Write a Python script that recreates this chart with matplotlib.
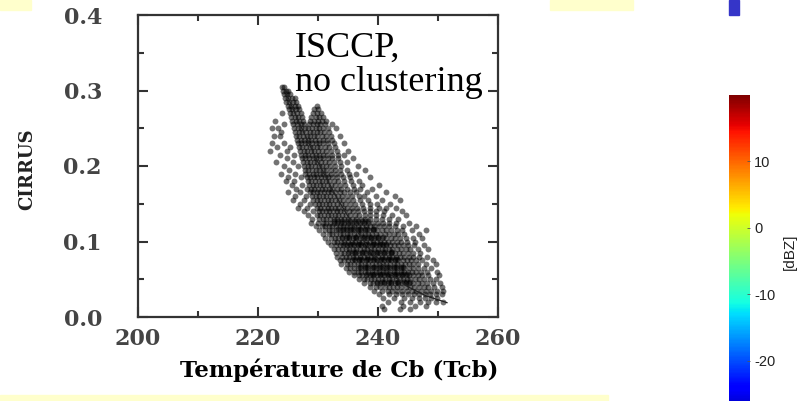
import matplotlib
matplotlib.use('Agg')
import matplotlib.pyplot as plt
import matplotlib.patches as mpatches
from matplotlib.cm import ScalarMappable
from matplotlib.colors import Normalize

# cirrus level -> temperatures (K) of the points
cirrus_levels = [0.305, 0.300, 0.295, 0.290, 0.285, 0.280, 0.275, 0.270, 0.265, 0.260,
                 0.255, 0.250, 0.245, 0.240, 0.235, 0.230, 0.225, 0.220, 0.215, 0.210,
                 0.205, 0.200, 0.195, 0.190, 0.185, 0.180, 0.175, 0.170, 0.165, 0.160,
                 0.155, 0.150, 0.145, 0.140, 0.135, 0.130, 0.125, 0.120, 0.115, 0.110,
                 0.105, 0.100, 0.095, 0.090, 0.085, 0.080, 0.075, 0.070, 0.065, 0.060,
                 0.055, 0.050, 0.045, 0.040, 0.035, 0.030, 0.025, 0.020, 0.015, 0.010]
tcb_by_level = [
    [224.0, 224.4],
    [224.1, 224.6, 225.0],
    [224.3, 224.8, 225.3],
    [224.5, 225.0, 225.6, 226.2],
    [224.6, 225.2, 225.8, 226.4],
    [225.0, 225.5, 226.1, 226.7, 229.9],
    [225.2, 225.7, 226.3, 226.9, 229.4, 230.0],
    [224.0, 225.4, 225.9, 226.5, 227.1, 229.2, 229.8, 230.5],
    [225.5, 226.1, 226.7, 227.3, 228.9, 229.6, 230.2, 230.9],
    [222.8, 225.7, 226.3, 226.9, 227.5, 228.7, 229.4, 230.0, 230.7, 231.4],
    [224.3, 225.9, 226.5, 227.1, 227.7, 228.5, 229.1, 229.8, 230.4, 231.1, 232.4],
    [222.4, 223.4, 226.0, 226.6, 227.2, 227.9, 228.4, 229.0, 229.6, 230.2, 230.9, 231.6, 233.0],
    [223.9, 226.2, 226.8, 227.4, 228.0, 228.6, 229.2, 229.8, 230.4, 231.0, 231.8],
    [222.7, 223.6, 226.3, 226.9, 227.5, 228.1, 228.7, 229.3, 229.9, 230.6, 231.3, 232.2, 233.6],
    [226.5, 227.1, 227.7, 228.3, 228.9, 229.5, 230.1, 230.8, 231.5, 232.4],
    [222.4, 224.4, 226.6, 227.2, 227.8, 228.4, 229.0, 229.6, 230.2, 230.9, 231.7, 232.6, 234.4],
    [223.2, 225.4, 226.8, 227.4, 228.0, 228.6, 229.2, 229.8, 230.4, 231.1, 231.9, 232.9],
    [222.0, 224.8, 227.0, 227.6, 228.2, 228.8, 229.4, 230.0, 230.6, 231.3, 232.1, 233.2, 235.0],
    [223.6, 226.0, 227.2, 227.8, 228.4, 229.0, 229.6, 230.2, 230.8, 231.5, 232.3, 233.4, 234.4],
    [224.9, 227.3, 227.9, 228.5, 229.1, 229.7, 230.3, 230.9, 231.6, 232.4, 233.3, 235.8],
    [223.0, 225.8, 227.5, 228.1, 228.7, 229.3, 229.9, 230.5, 231.1, 231.8, 232.6, 233.6, 234.8],
    [224.4, 226.6, 227.7, 228.3, 228.9, 229.5, 230.1, 230.7, 231.3, 232.0, 232.8, 233.8, 236.6],
    [225.2, 227.8, 228.4, 229.0, 229.6, 230.2, 230.8, 231.4, 232.1, 232.9, 233.7, 234.8, 237.8],
    [223.8, 226.2, 227.9, 228.5, 229.1, 229.7, 230.3, 230.9, 231.5, 232.2, 233.0, 233.9, 235.2, 236.4],
    [225.0, 227.2, 228.1, 228.7, 229.3, 229.9, 230.5, 231.1, 231.7, 232.4, 233.2, 234.1, 235.4, 238.6],
    [224.6, 226.0, 228.3, 228.9, 229.5, 230.1, 230.7, 231.3, 231.9, 232.6, 233.4, 234.3, 235.5, 236.8],
    [225.6, 227.4, 228.5, 229.1, 229.7, 230.3, 230.9, 231.5, 232.1, 232.8, 233.6, 234.5, 235.8, 237.4, 240.2],
    [226.4, 228.2, 228.8, 229.4, 230.0, 230.6, 231.2, 231.8, 232.4, 233.1, 233.9, 234.8, 236.0, 237.0, 239.0],
    [225.0, 227.0, 228.6, 229.2, 229.8, 230.4, 231.0, 231.6, 232.2, 232.9, 233.6, 234.4, 235.3, 236.4, 238.2, 241.4],
    [226.2, 228.0, 229.0, 229.6, 230.2, 230.8, 231.4, 232.0, 232.6, 233.3, 234.0, 234.8, 235.7, 236.8, 237.6, 239.6, 242.8],
    [225.8, 227.6, 229.2, 229.8, 230.4, 231.0, 231.6, 232.2, 232.8, 233.5, 234.2, 235.0, 235.9, 237.0, 238.4, 240.6, 243.6],
    [227.0, 228.6, 229.5, 230.1, 230.7, 231.3, 231.9, 232.5, 233.1, 233.8, 234.5, 235.3, 236.2, 237.3, 238.6, 239.8, 242.0],
    [226.6, 228.2, 229.8, 230.4, 231.0, 231.6, 232.2, 232.8, 233.4, 234.1, 234.8, 235.6, 236.5, 237.5, 238.6, 240.2, 241.4, 243.0],
    [227.6, 229.2, 230.1, 230.7, 231.3, 231.9, 232.5, 233.1, 233.7, 234.4, 235.1, 235.9, 236.7, 237.6, 238.6, 239.7, 241.0, 244.0],
    [228.4, 229.8, 230.4, 231.0, 231.6, 232.2, 232.8, 233.4, 234.0, 234.7, 235.4, 236.1, 236.9, 237.8, 238.7, 239.7, 240.8, 242.4, 244.6],
    [229.0, 230.2, 230.8, 231.4, 232.0, 232.6, 233.2, 233.8, 234.4, 235.0, 235.7, 236.4, 237.1, 237.9, 238.7, 239.6, 240.6, 241.8, 243.4],
    [228.8, 230.0, 230.8, 231.4, 232.0, 232.6, 233.2, 233.8, 234.4, 235.0, 235.6, 236.3, 237.0, 237.7, 238.4, 239.2, 240.0, 240.9, 241.9, 243.0, 245.2],
    [229.6, 230.6, 231.2, 231.8, 232.4, 233.0, 233.6, 234.2, 234.8, 235.4, 236.0, 236.6, 237.3, 238.0, 238.7, 239.4, 240.2, 241.0, 241.9, 242.8, 244.2, 246.4],
    [230.2, 231.2, 231.8, 232.4, 233.0, 233.6, 234.2, 234.8, 235.4, 236.0, 236.6, 237.2, 237.8, 238.5, 239.2, 239.9, 240.6, 241.4, 242.2, 243.1, 244.0, 245.6, 248.0],
    [230.8, 231.8, 232.4, 233.0, 233.6, 234.2, 234.8, 235.4, 236.0, 236.6, 237.2, 237.8, 238.4, 239.0, 239.7, 240.4, 241.1, 241.8, 242.6, 243.4, 244.4, 246.8],
    [231.2, 232.2, 232.8, 233.4, 234.0, 234.6, 235.2, 235.8, 236.4, 237.0, 237.6, 238.2, 238.8, 239.4, 240.0, 240.7, 241.4, 242.1, 242.9, 243.7, 244.6, 245.8, 247.4],
    [231.6, 232.6, 233.2, 233.8, 234.4, 235.0, 235.6, 236.2, 236.8, 237.4, 238.0, 238.6, 239.2, 239.8, 240.4, 241.0, 241.7, 242.4, 243.1, 243.9, 244.8, 246.2],
    [232.2, 233.0, 233.6, 234.2, 234.8, 235.4, 236.0, 236.6, 237.2, 237.8, 238.4, 239.0, 239.6, 240.2, 240.8, 241.4, 242.0, 242.7, 243.4, 244.2, 245.0, 246.0, 247.6],
    [232.6, 233.4, 234.0, 234.6, 235.2, 235.8, 236.4, 237.0, 237.6, 238.2, 238.8, 239.4, 240.0, 240.6, 241.2, 241.8, 242.4, 243.1, 243.8, 244.6, 245.4, 246.6, 248.4],
    [233.0, 233.8, 234.4, 235.0, 235.6, 236.2, 236.8, 237.4, 238.0, 238.6, 239.2, 239.8, 240.4, 241.0, 241.6, 242.2, 242.8, 243.5, 244.2, 245.0, 245.8, 247.0],
    [233.2, 234.0, 234.6, 235.2, 235.8, 236.4, 237.0, 237.6, 238.2, 238.8, 239.4, 240.0, 240.6, 241.2, 241.8, 242.4, 243.0, 243.7, 244.4, 245.1, 245.9, 246.8, 248.2],
    [233.6, 234.4, 235.0, 235.6, 236.2, 236.8, 237.4, 238.0, 238.6, 239.2, 239.8, 240.4, 241.0, 241.6, 242.2, 242.8, 243.4, 244.1, 244.8, 245.5, 246.3, 247.4, 249.2],
    [233.8, 234.8, 235.4, 236.0, 236.6, 237.2, 237.8, 238.4, 239.0, 239.6, 240.2, 240.8, 241.4, 242.0, 242.6, 243.2, 243.8, 244.5, 245.2, 245.9, 246.7, 248.0, 249.6],
    [234.6, 235.4, 236.0, 236.6, 237.2, 237.8, 238.4, 239.0, 239.6, 240.2, 240.8, 241.4, 242.0, 242.6, 243.2, 243.8, 244.4, 245.1, 245.8, 246.6, 247.6, 248.8],
    [235.2, 236.0, 236.6, 237.2, 237.8, 238.4, 239.0, 239.6, 240.2, 240.8, 241.4, 242.0, 242.6, 243.2, 243.8, 244.4, 245.0, 245.7, 246.4, 247.2, 248.2, 249.8],
    [236.0, 236.8, 237.4, 238.0, 238.6, 239.2, 239.8, 240.4, 241.0, 241.6, 242.2, 242.8, 243.4, 244.0, 244.6, 245.2, 245.9, 246.6, 247.4, 248.4, 250.2],
    [236.8, 237.6, 238.2, 238.8, 239.4, 240.0, 240.6, 241.2, 241.8, 242.4, 243.0, 243.6, 244.2, 244.8, 245.4, 246.1, 246.8, 247.6, 248.6, 249.6],
    [237.6, 238.6, 239.2, 239.8, 240.4, 241.0, 241.6, 242.2, 242.8, 243.4, 244.0, 244.6, 245.2, 245.9, 246.6, 247.4, 248.2, 249.2, 250.4],
    [238.6, 239.6, 240.4, 241.1, 241.8, 242.5, 243.2, 243.9, 244.6, 245.3, 246.0, 246.8, 247.6, 248.4, 249.4, 250.6],
    [239.4, 240.6, 241.6, 242.4, 243.2, 244.0, 244.8, 245.6, 246.4, 247.2, 248.0, 248.9, 249.8, 250.8],
    [240.2, 241.8, 243.0, 244.0, 245.0, 246.0, 246.9, 247.8, 248.7, 249.6, 250.6],
    [240.8, 242.6, 244.4, 245.6, 246.8, 247.8, 248.8, 249.8],
    [241.6, 243.8, 245.4, 247.0, 248.4, 249.6, 250.8],
    [240.6, 244.2, 246.2, 248.0],
    [241.0, 243.6, 245.4],
]

# extra points where the cloud is densest
core_levels = [0.1265, 0.1165, 0.1065, 0.0965, 0.0865, 0.0765, 0.0665, 0.0565, 0.0465]
core_tcb_by_level = [
    [232.7, 233.4, 234.0, 234.9, 235.4, 236.2, 236.6, 237.3, 237.9, 238.3],
    [233.3, 234.2, 234.6, 235.5, 235.8, 236.7, 237.0, 237.9, 238.2, 239.1, 239.4],
    [234.0, 234.8, 235.2, 236.1, 236.4, 237.3, 237.6, 238.5, 238.8, 239.7, 240.0, 240.8],
    [234.5, 235.4, 235.8, 236.7, 237.0, 237.9, 238.2, 239.1, 239.4, 240.3, 240.6, 241.4],
    [235.1, 236.0, 236.4, 237.3, 237.6, 238.5, 238.8, 239.7, 240.0, 240.9, 241.2, 242.1, 242.4],
    [236.0, 236.8, 237.2, 238.1, 238.4, 239.3, 239.6, 240.5, 240.8, 241.7, 242.0, 242.9, 243.2],
    [237.0, 237.8, 238.2, 239.1, 239.4, 240.3, 240.6, 241.5, 241.8, 242.7, 243.0, 243.9, 244.2],
    [238.2, 239.0, 239.4, 240.3, 240.6, 241.5, 241.8, 242.7, 243.0, 243.9, 244.2, 244.9],
    [239.8, 240.6, 241.0, 241.9, 242.2, 243.1, 243.4, 244.3, 244.6, 245.3],
]

# fitted curve drawn through the cloud
fit_tcb = [224.5, 227.0, 230.0, 233.0, 236.0, 239.0, 242.0, 245.0, 248.0, 251.5]
fit_cirrus = [0.300, 0.255, 0.205, 0.160, 0.120, 0.085, 0.058, 0.040, 0.028, 0.019]

x_ticks = [200, 220, 240, 260]
y_ticks = [0.0, 0.1, 0.2, 0.3, 0.4]
y_ticklabels = ['0.0', '0.1', '0.2', '0.3', '0.4']
cbar_ticks = [10, 0, -10, -20]
cbar_ticklabels = ['10', '0', '-10', '-20']

W, H = 797, 401


def fx(px):
    return px / W


def fy(py):
    return 1 - py / H


def flatten(levels, temps_by_level):
    xs, ys = [], []
    for c, temps in zip(levels, temps_by_level):
        xs.extend(temps)
        ys.extend([c] * len(temps))
    return xs, ys


def main():
    fig = plt.figure(figsize=(W / 100, H / 100), dpi=100)
    fig.patch.set_facecolor('white')

    # slide decorations
    yellow = '#ffffcc'
    for (x0, y0, x1, y1, col) in [(0, 0, 31, 10, yellow), (550, 0, 633, 10, yellow),
                                  (0, 395, 608, 401, yellow), (729, 0, 739, 15, '#3535c8')]:
        fig.patches.append(mpatches.Rectangle((fx(x0), fy(y1)), fx(x1) - fx(x0), fy(y0) - fy(y1),
                                              transform=fig.transFigure, color=col, zorder=0))

    ax = fig.add_axes([fx(138), fy(317), fx(498) - fx(138), fy(15) - fy(317)])

    tcb, cirrus = flatten(cirrus_levels, tcb_by_level)
    ctcb, ccirrus = flatten(core_levels, core_tcb_by_level)
    ax.scatter(tcb, cirrus, s=18, marker='o', color='black', alpha=0.55, linewidths=0)
    ax.scatter(ctcb, ccirrus, s=18, marker='o', color='black', alpha=0.5, linewidths=0)
    ax.plot(fit_tcb, fit_cirrus, color='#222222', lw=0.9)

    ax.set_xlim(200, 260)
    ax.set_ylim(0, 0.4)
    ax.set_xticks(x_ticks)
    ax.set_xticks([210, 230, 250], minor=True)
    ax.set_yticks(y_ticks)
    ax.set_yticks([0.05, 0.15, 0.25, 0.35], minor=True)
    ax.set_yticklabels(y_ticklabels)
    for s in ax.spines.values():
        s.set_linewidth(1.6)
        s.set_color('#333333')
    ax.tick_params(which='both', direction='in', top=True, right=True, width=1.5, color='#333333')
    ax.tick_params(which='major', length=7)
    ax.tick_params(which='minor', length=4.5)
    ax.tick_params(axis='x', pad=8)
    ax.tick_params(axis='y', pad=26)
    for lab in ax.get_xticklabels() + ax.get_yticklabels():
        lab.set_fontfamily('DejaVu Serif')
        lab.set_fontweight('bold')
        lab.set_fontsize(16)
        lab.set_color('#444444')

    fig.text(fx(27), fy(169), 'CIRRUS', rotation=90, ha='center', va='center',
             family='DejaVu Serif', weight='bold', fontsize=13, color='#222222')
    fig.text(fx(339), fy(370), 'Température de Cb (Tcb)', ha='center', va='center',
             family='DejaVu Serif', weight='bold', fontsize=16.5, color='black')

    fig.text(fx(295), fy(57), 'ISCCP,', ha='left', va='baseline',
             family='Liberation Serif', fontsize=26, color='black')
    fig.text(fx(295), fy(91), 'no clustering', ha='left', va='baseline',
             family='Liberation Serif', fontsize=26, color='black')

    # colourbar (cut off by the bottom edge of the slide)
    px_per_unit = 6.65
    cb_top = 95
    cb_h = (20 - (-30)) * px_per_unit
    cax = fig.add_axes([fx(729), fy(cb_top + cb_h), fx(750) - fx(729), cb_h / H])
    sm = ScalarMappable(norm=Normalize(vmin=-30, vmax=20), cmap='jet')
    cb = fig.colorbar(sm, cax=cax)
    cb.outline.set_visible(False)
    cb.set_ticks(cbar_ticks)
    cb.set_ticklabels(cbar_ticklabels)
    cax.tick_params(direction='in', length=2.5, width=0.6, color='#555555', pad=3,
                    labelsize=10.5, labelcolor='#222222')
    for lab in cax.get_yticklabels():
        lab.set_fontfamily('Liberation Sans')
    fig.text(fx(790), fy(252), '[dBZ]', rotation=90, ha='center', va='center',
             family='Liberation Sans', fontsize=11, color='#222222')

    fig.savefig('out.png', dpi=100)


if __name__ == '__main__':
    main()
